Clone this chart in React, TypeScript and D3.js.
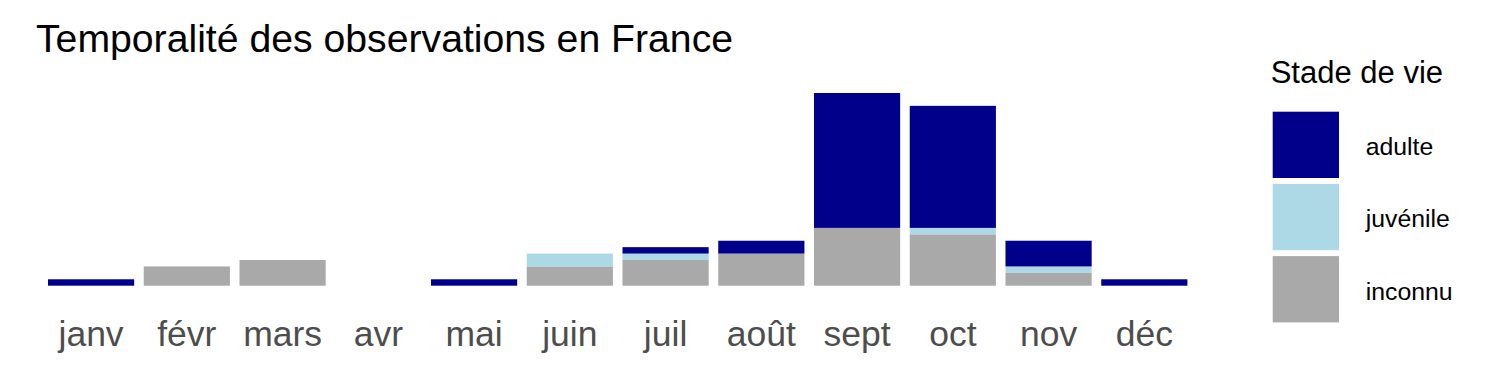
import React from "react";
import * as d3 from "d3";

const months = ["janv", "févr", "mars", "avr", "mai", "juin", "juil", "août", "sept", "oct", "nov", "déc"];
const adulte = [1, 0, 0, 0, 1, 0, 1, 2, 21, 19, 4, 1];
const juvenile = [0, 0, 0, 0, 0, 2, 1, 0, 0, 1, 1, 0];
const inconnu = [0, 3, 4, 0, 0, 3, 4, 5, 9, 8, 2, 0];
const stageKeys = ["inconnu", "juvenile", "adulte"];
const legendKeys = ["adulte", "juvenile", "inconnu"];
const legendLabels: Record<string, string> = { adulte: "adulte", juvenile: "juvénile", inconnu: "inconnu" };
const colors: Record<string, string> = { adulte: "#00008B", juvenile: "#ADD8E6", inconnu: "#A9A9A9" };
const title = "Temporalité des observations en France";
const legendTitle = "Stade de vie";

const FONT = "Arial, 'Liberation Sans', Helvetica, sans-serif";

export default function App() {
  const W = 1500, H = 375;
  const rows = months.map((m, i) => ({ month: m, adulte: adulte[i], juvenile: juvenile[i], inconnu: inconnu[i] }));
  const series = d3.stack<any>().keys(stageKeys)(rows);
  const x = d3.scaleBand().domain(months).range([43.2, 1192.2]).paddingInner(0.1).paddingOuter(0.05);
  const y = d3.scaleLinear().domain([0, 30]).range([285.7, 93]);

  return (
    <svg width={W} height={H} style={{ position: "absolute", left: 0, top: 0, background: "#fff" }} fontFamily={FONT}>
      <rect x={0} y={0} width={W} height={H} fill="#fff" />
      <text x={36} y={51.7} fontSize={39.2} fill="#000">{title}</text>
      {series.map((s) => (
        <g key={s.key} fill={colors[s.key]}>
          {s.map((d: any, i: number) =>
            d[1] - d[0] > 0 ? (
              <rect key={i} x={x(months[i])} width={x.bandwidth()} y={y(d[1])} height={y(d[0]) - y(d[1])} />
            ) : null
          )}
        </g>
      ))}
      {months.map((m) => (
        <text key={m} x={(x(m) as number) + x.bandwidth() / 2} y={345.8} fontSize={35.5} fill="#4D4D4D" textAnchor="middle">{m}</text>
      ))}
      <text x={1270.7} y={83.3} fontSize={31} fill="#000">{legendTitle}</text>
      {legendKeys.map((k, i) => (
        <g key={k}>
          <rect x={1272.7} y={111.7 + i * 72.2} width={66.3} height={66.3} fill={colors[k]} />
          <text x={1365.7} y={111.7 + i * 72.2 + 33.15 + 10.3} fontSize={24.8} fill="#000">{legendLabels[k]}</text>
        </g>
      ))}
    </svg>
  );
}
